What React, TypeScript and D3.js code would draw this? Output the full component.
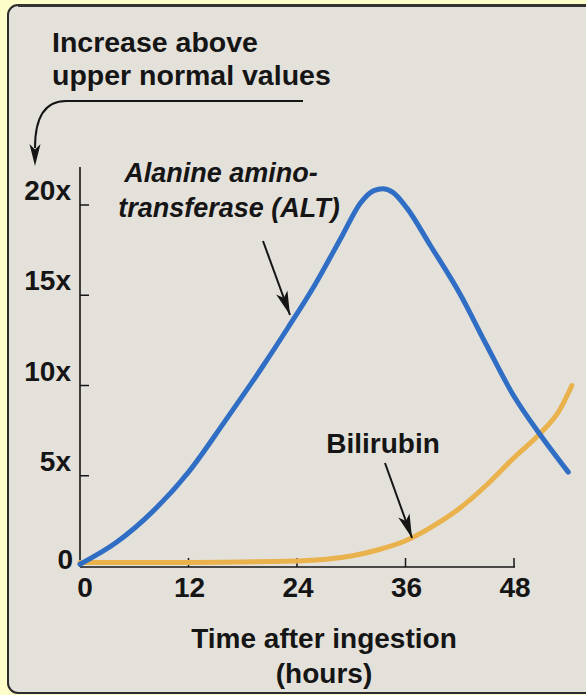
import React from 'react';
import { scaleLinear, line, curveMonotoneX } from 'd3';

const W = 586;
const H = 695;

// hours after ingestion, multiple of upper normal value
const altSeries: [number, number][] = [
  [0, 0.1], [4, 1.3], [8, 3.0], [12, 5.2], [16, 8.0], [20, 10.9], [23, 13.2],
  [26, 15.6], [29, 18.3], [31, 20.1], [32.5, 20.8], [33.5, 20.9], [34.6, 20.7],
  [36.2, 19.8], [38.7, 17.8], [42, 15.1], [45, 12.2], [48, 9.4], [51, 7.2], [54, 5.2],
];
const biliSeries: [number, number][] = [
  [0, 0.2], [12, 0.2], [24, 0.28], [30, 0.55], [33, 0.9], [36, 1.4], [39, 2.2],
  [42, 3.2], [45, 4.5], [48, 6.0], [51, 7.4], [53, 8.6], [54.4, 10.0],
];
const xTicks = [0, 12, 24, 36, 48];
const yTicks = [0, 5, 10, 15, 20];
const yTickLabels = ['0', '5x', '10x', '15x', '20x'];

const dim = { x0: 80, x1: 514, y0: 566, y1: 205, axisTop: 167 };
const font = '"Liberation Sans", Arial, Helvetica, sans-serif';
const ink = '#151515';

const x = scaleLinear().domain([0, 48]).range([dim.x0, dim.x1]);
const y = scaleLinear().domain([0, 20]).range([dim.y0, dim.y1]);

const path = line<[number, number]>()
  .x((d) => x(d[0]))
  .y((d) => y(d[1]))
  .curve(curveMonotoneX);

// narrow arrowhead pointing at (tx, ty) coming from (fx, fy)
const arrowHead = (fx: number, fy: number, tx: number, ty: number, len = 24, half = 6) => {
  const a = Math.atan2(ty - fy, tx - fx);
  const ux = Math.cos(a), uy = Math.sin(a);
  const px = -uy, py = ux;
  const bx = tx - ux * len, by = ty - uy * len;
  const nx = tx - ux * len * 0.75, ny = ty - uy * len * 0.75;
  return `M${tx},${ty} L${bx + px * half},${by + py * half} L${nx},${ny} L${bx - px * half},${by - py * half} Z`;
};

const Arrow = ({ fx, fy, tx, ty }: { fx: number; fy: number; tx: number; ty: number }) => (
  <g>
    <line x1={fx} y1={fy} x2={tx} y2={ty} stroke={ink} strokeWidth={2} />
    <path d={arrowHead(fx, fy, tx, ty)} fill={ink} />
  </g>
);

const App = () => {
  return (
    <svg
      width={W}
      height={H}
      style={{ position: 'absolute', left: 0, top: 0, display: 'block' }}
      fontFamily={font}
    >
      <rect x={0} y={0} width={W} height={H} fill="#fdfdc9" />
      <rect x={8} y={5} width={620} height={688} rx={10} fill="#e4e1db" stroke="#2b2b2b" strokeWidth={2} />
      <line x1={18} y1={5.5} x2={W} y2={5.5} stroke="#333" strokeWidth={3} />

      {/* y axis title */}
      <text x={52} y={52} fontSize={28.5} fontWeight="bold" fill={ink}>Increase above</text>
      <text x={52} y={85} fontSize={28.5} fontWeight="bold" fill={ink}>upper normal values</text>
      <path d="M303,101 H66 C46,101 35,116 35,148" fill="none" stroke={ink} strokeWidth={2} />
      <path d={arrowHead(35, 140, 35, 166, 22, 5.5)} fill={ink} />

      {/* axes */}
      <line x1={dim.x0} y1={dim.axisTop} x2={dim.x0} y2={dim.y0 + 1} stroke={ink} strokeWidth={1.6} />
      <line x1={dim.x0} y1={dim.y0 + 1} x2={dim.x1 + 1} y2={dim.y0 + 1} stroke={ink} strokeWidth={1.6} />
      {yTicks.map((t, i) => (
        <g key={t}>
          {t > 0 && <line x1={dim.x0} y1={y(t)} x2={dim.x0 + 9} y2={y(t)} stroke={ink} strokeWidth={1.5} />}
          <text x={t === 0 ? 73 : 71} y={y(t) + (t === 0 ? 3 : -5)} fontSize={28} fontWeight="bold" textAnchor="end" fill={ink}>
            {yTickLabels[i]}
          </text>
        </g>
      ))}
      {xTicks.map((t) => (
        <g key={t}>
          {t > 0 && <line x1={x(t)} y1={dim.y0 + 1} x2={x(t)} y2={dim.y0 - 8} stroke={ink} strokeWidth={1.5} />}
          <text x={x(t) + (t === 0 ? 5 : 1)} y={597} fontSize={28} fontWeight="bold" textAnchor="middle" fill={ink}>
            {t}
          </text>
        </g>
      ))}
      <text x={324} y={648} fontSize={28} fontWeight="bold" textAnchor="middle" fill={ink}>Time after ingestion</text>
      <text x={324} y={683} fontSize={28} fontWeight="bold" textAnchor="middle" fill={ink}>(hours)</text>

      {/* series */}
      <path d={path(biliSeries) ?? ''} fill="none" stroke="#e9b24c" strokeWidth={5} strokeLinecap="round" />
      <path d={path(altSeries) ?? ''} fill="none" stroke="#2f6ec4" strokeWidth={5} strokeLinecap="round" strokeLinejoin="round" />

      {/* annotations */}
      <text x={221} y={182} fontSize={27} fontWeight="bold" fontStyle="italic" textAnchor="middle" fill={ink}>Alanine amino-</text>
      <text x={229} y={217} fontSize={27} fontWeight="bold" fontStyle="italic" textAnchor="middle" fill={ink}>transferase (ALT)</text>
      <Arrow fx={263} fy={241} tx={290} ty={315} />
      <text x={383} y={453} fontSize={28} fontWeight="bold" textAnchor="middle" fill={ink}>Bilirubin</text>
      <Arrow fx={385} fy={463} tx={412} ty={538} />
    </svg>
  );
};

export default App;
